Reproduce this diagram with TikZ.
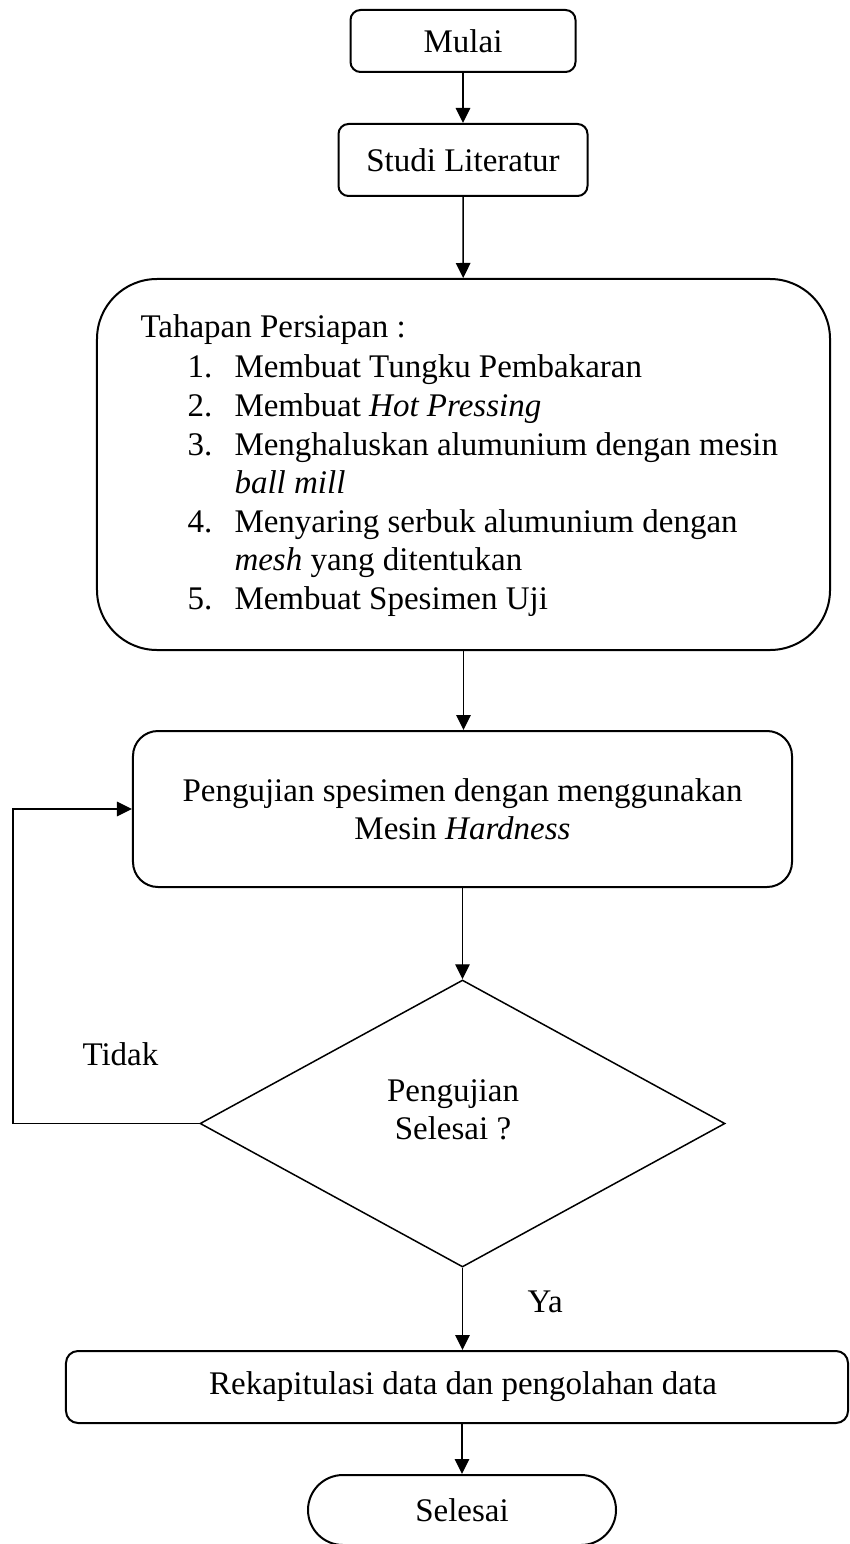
\documentclass[tikz,border=0pt]{standalone}
\usepackage{fontspec}
\setmainfont{Liberation Serif}
\usetikzlibrary{shapes.geometric,arrows.meta}
\begin{document}
\begin{tikzpicture}[x=0.4pt,y=-0.4pt,
  every node/.style={font=\fontsize{13.2}{15.4}\selectfont, inner sep=0pt},
  box/.style={draw, line width=0.8pt},
  arr/.style={line width=0.55pt, -{Triangle[length=6pt,width=5.8pt]}},
  txt/.style={anchor=base west}]
\useasboundingbox (0,0) rectangle (850,1544);
% boxes
\node[box, rounded corners=4pt, minimum width=90pt, minimum height=24.8pt] (mulai) at (463,41) {\raisebox{-2.4pt}{Mulai}};
\node[box, rounded corners=4pt, minimum width=99.6pt, minimum height=28.8pt] (studi) at (463,160) {Studi Literatur};
\node[box, rounded corners=24pt, minimum width=293.2pt, minimum height=148.4pt] (prep) at (463.5,464.5) {};
\node[txt] (t0) at (140,338) {Tahapan Persiapan :};
\node[txt] (n1) at (187,378) {1.};
\node[txt] (i1) at (234,378) {Membuat Tungku Pembakaran};
\node[txt] (n2) at (187,417) {2.};
\node[txt] (i2) at (234,417) {Membuat \textit{Hot Pressing}};
\node[txt] (n3) at (187,455) {3.};
\node[txt] (i3) at (234,455) {Menghaluskan alumunium dengan mesin};
\node[txt] (i3b) at (234,493) {\textit{ball mill}};
\node[txt] (n4) at (187,532) {4.};
\node[txt] (i4) at (234,532) {Menyaring serbuk alumunium dengan};
\node[txt] (i4b) at (234,570) {\textit{mesh} yang ditentukan};
\node[txt] (n5) at (187,609) {5.};
\node[txt] (i5) at (234,609) {Membuat Spesimen Uji};
\node[box, rounded corners=10pt, minimum width=263.6pt, minimum height=62.4pt, align=center] (uji) at (462.5,809) {Pengujian spesimen dengan menggunakan\\Mesin \textit{Hardness}};
\node[draw, diamond, line width=0.6pt, minimum width=210pt, minimum height=114.8pt] (dec) at (462.5,1123.5) {};
\node[align=center] (dectext) at (453,1110) {Pengujian\\Selesai ?};
\node[box, rounded corners=4.8pt, minimum width=312.8pt, minimum height=28.8pt] (rekap) at (457,1387) {\hspace{4.8pt}Rekapitulasi data dan pengolahan data};
\node[box, rounded corners=14pt, minimum width=123.2pt, minimum height=28pt] (selesai) at (462,1510) {\raisebox{-4pt}{Selesai}};
% labels
\node[txt] (tidak) at (82,1065) {Tidak};
\node[txt] (ya) at (527,1312) {Ya};
% connectors
\coordinate (lp) at (13,1123.5);
\draw[arr] (mulai) -- (studi);
\draw[arr] (studi) -- (prep);
\draw[arr] (prep.south) -- (uji.north -| prep.south);
\draw[arr] (uji.south) -- (dec.north);
\draw[arr] (dec.south) -- (dec.south |- rekap.north);
\draw[arr] (rekap.south -| selesai.north) -- (selesai.north);
\draw[arr] (dec.west) -- (lp) |- (uji.west);
\end{tikzpicture}
\end{document}
